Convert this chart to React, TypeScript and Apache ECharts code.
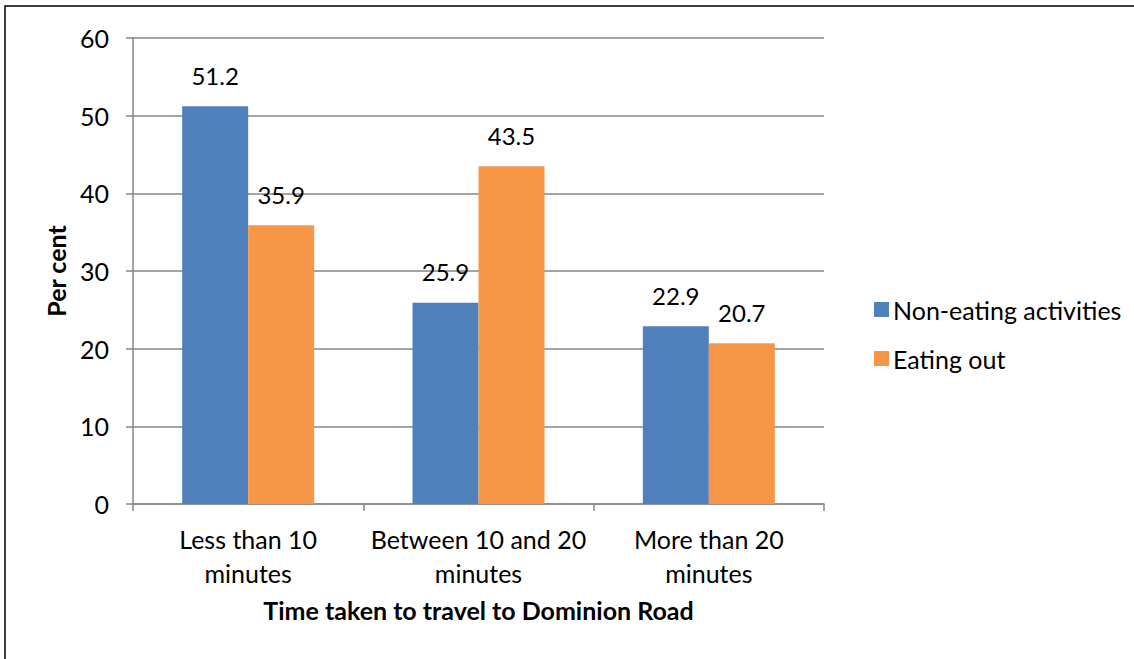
import React, { useEffect, useRef } from "react";
import * as echarts from "echarts";

const categories = ["Less than 10\nminutes", "Between 10 and 20\nminutes", "More than 20\nminutes"];
const nonEating = [51.2, 25.9, 22.9];
const eatingOut = [35.9, 43.5, 20.7];
const seriesNames = ["Non-eating activities", "Eating out"];
const yTicks = { min: 0, max: 60, interval: 10 };

const FONT = "Lato";

export default function App() {
  const ref = useRef<HTMLDivElement>(null);
  useEffect(() => {
    const chart = echarts.init(ref.current!, null, { renderer: "svg" });
    const labelStyle = { show: true, position: "top" as const, distance: 19, fontSize: 24, color: "#000", fontFamily: FONT };
    chart.setOption({
      animation: false,
      textStyle: { fontFamily: FONT },
      graphic: [
        { type: "rect", shape: { x: 5, y: 6, width: 1140, height: 670 }, style: { fill: "none", stroke: "#000", lineWidth: 1.5 } },
      ],
      grid: { left: 133, right: 310, top: 38, bottom: 155 },
      legend: {
        orient: "vertical",
        left: 869,
        top: 292,
        itemWidth: 15,
        itemHeight: 15,
        itemGap: 24,
        icon: "rect",
        textStyle: { fontSize: 25, color: "#000", fontFamily: FONT, padding: [0, 0, 0, -1] },
        data: seriesNames,
      },
      xAxis: {
        type: "category",
        data: categories,
        name: "Time taken to travel to Dominion Road",
        nameLocation: "middle",
        nameGap: 93,
        nameTextStyle: { fontSize: 25, fontWeight: "bold", color: "#000", fontFamily: FONT },
        axisLine: { lineStyle: { color: "#868686", width: 1.5 } },
        axisTick: { show: true, length: 7, lineStyle: { color: "#868686", width: 1.5 } },
        axisLabel: { interval: 0, hideOverlap: false, fontSize: 25, color: "#000", margin: 18, lineHeight: 34, fontFamily: FONT },
      },
      yAxis: {
        type: "value",
        min: yTicks.min,
        max: yTicks.max,
        interval: yTicks.interval,
        name: "Per cent",
        nameLocation: "middle",
        nameGap: 65,
        nameRotate: 90,
        nameTextStyle: { fontSize: 25, fontWeight: "bold", color: "#000", fontFamily: FONT },
        axisLine: { show: true, lineStyle: { color: "#868686", width: 1.5 } },
        axisTick: { show: true, length: 7, lineStyle: { color: "#868686", width: 1.5 } },
        axisLabel: { fontSize: 25, color: "#000", margin: 24, fontFamily: FONT },
        splitLine: { lineStyle: { color: "#868686", width: 1.5 } },
      },
      series: [
        {
          name: seriesNames[0],
          type: "bar",
          data: nonEating,
          barWidth: 66,
          barGap: "0%",
          itemStyle: { color: "#4F81BD" },
          label: labelStyle,
        },
        {
          name: seriesNames[1],
          type: "bar",
          data: eatingOut,
          barWidth: 66,
          itemStyle: { color: "#F79646" },
          label: labelStyle,
        },
      ],
    });
    return () => chart.dispose();
  }, []);
  return <div ref={ref} style={{ position: "fixed", left: 0, top: 0, width: 1134, height: 659, background: "#fff" }} />;
}
